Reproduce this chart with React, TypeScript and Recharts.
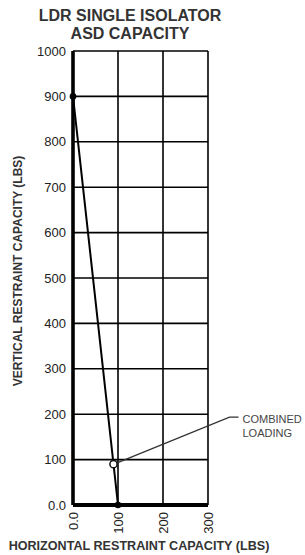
import React from 'react'
import { LineChart, Line, XAxis, YAxis, CartesianGrid } from 'recharts'

// capacity curve: horizontal load (lbs) vs vertical load (lbs)
const horizontalLbs = [0, 90, 100]
const verticalLbs = [900, 90, 0]
const markerKinds = ['filled', 'open', 'filled']

const xTicks = [0, 100, 200, 300]
const yTicks = [0, 100, 200, 300, 400, 500, 600, 700, 800, 900, 1000]

const titleLines = ['LDR SINGLE ISOLATOR', 'ASD CAPACITY']
const xTitle = 'HORIZONTAL RESTRAINT CAPACITY (LBS)'
const yTitle = 'VERTICAL RESTRAINT CAPACITY (LBS)'
const noteLines = ['COMBINED', 'LOADING']

const data = horizontalLbs.map((h, i) => ({ h, v: verticalLbs[i], kind: markerKinds[i] }))

const FONT = 'Arial, "Liberation Sans", Helvetica, sans-serif'
const fmt = (v: number) => (v === 0 ? '0.0' : String(v))

const XTick = ({ x, y, payload }: any) => {
  const ty = y + 5
  return (
    <text
      x={x}
      y={ty}
      transform={`rotate(-90 ${x} ${ty})`}
      textAnchor="end"
      dy="0.36em"
      fontSize={13}
      fontFamily={FONT}
      fill="#222"
    >
      {fmt(payload.value)}
    </text>
  )
}

const Marker = (props: any) => {
  const { cx, cy, payload, index } = props
  if (cx == null || cy == null) return null
  if (payload.kind === 'open') {
    return (
      <g key={`m-${index}`}>
        <polyline
          points={`${cx + 3},${cy - 1} ${cx + 116},${cy - 47} ${cx + 125},${cy - 47}`}
          fill="none"
          stroke="#333"
          strokeWidth={1.4}
        />
        <circle cx={cx} cy={cy} r={3.6} fill="#fff" stroke="#111" strokeWidth={1.5} />
        {noteLines.map((t, i) => (
          <text
            key={t}
            x={cx + 129}
            y={cy - 41 + i * 14}
            fontSize={11}
            fontFamily={FONT}
            fill="#444"
          >
            {t}
          </text>
        ))}
      </g>
    )
  }
  return <circle key={`m-${index}`} cx={cx} cy={cy} r={3.3} fill="#000" />
}

export default function App() {
  return (
    <div style={{ position: 'fixed', left: 0, top: 0, width: 305, height: 555, background: '#fff' }}>
      <LineChart
        width={305}
        height={555}
        data={data}
        margin={{ top: 51, right: 97, bottom: 0, left: 0 }}
      >
        <CartesianGrid stroke="#000" strokeWidth={1.6} />
        <XAxis
          type="number"
          dataKey="h"
          domain={[0, 300]}
          ticks={xTicks}
          height={50}
          tickLine={false}
          tickSize={0}
          axisLine={{ stroke: '#000', strokeWidth: 4 }}
          tick={<XTick />}
          interval={0}
        />
        <YAxis
          type="number"
          dataKey="v"
          domain={[0, 1000]}
          ticks={yTicks}
          width={73}
          tickLine={false}
          tickSize={0}
          tickMargin={7}
          axisLine={{ stroke: '#000', strokeWidth: 3.6 }}
          tickFormatter={fmt}
          tick={{ fill: '#222', fontSize: 13, fontFamily: FONT }}
          interval={0}
        />
        <Line
          type="linear"
          dataKey="v"
          stroke="#000"
          strokeWidth={2}
          dot={Marker}
          activeDot={false}
          isAnimationActive={false}
        />
      </LineChart>
      <svg
        width={305}
        height={555}
        style={{ position: 'absolute', left: 0, top: 0, pointerEvents: 'none' }}
      >
        {titleLines.map((t, i) => (
          <text
            key={t}
            x={130}
            y={21 + i * 18}
            textAnchor="middle"
            fontSize={16}
            fontWeight="bold"
            fontFamily={FONT}
            fill="#333"
          >
            {t}
          </text>
        ))}
        <text
          x={139}
          y={550}
          textAnchor="middle"
          fontSize={12.6}
          fontWeight="bold"
          fontFamily={FONT}
          fill="#333"
        >
          {xTitle}
        </text>
        <text
          x={21.5}
          y={271}
          transform="rotate(-90 21.5 271)"
          textAnchor="middle"
          fontSize={12}
          fontWeight="bold"
          fontFamily={FONT}
          fill="#333"
        >
          {yTitle}
        </text>
      </svg>
    </div>
  )
}
